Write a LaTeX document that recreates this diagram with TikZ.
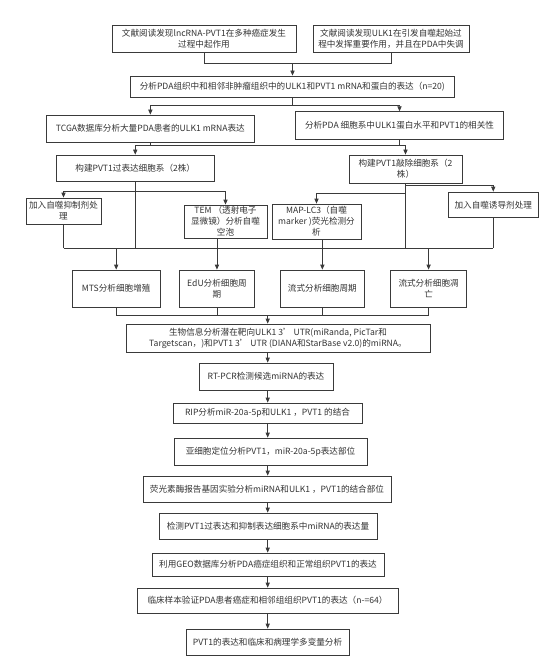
\documentclass[tikz,border=0pt]{standalone}
\usepackage{fontspec}
\newfontfamily\cjkfont{Noto Sans CJK SC}
\usetikzlibrary{arrows.meta,calc}
\definecolor{boxc}{HTML}{3A3A3A}
\definecolor{txtc}{HTML}{333333}
\tikzset{
  box/.style={draw=boxc, line width=0.8pt, fill=white, inner sep=1pt, align=center,
    text=txtc, font=\cjkfont\fontsize{8.6}{11}\selectfont},
  ln/.style={draw=boxc, line width=0.8pt},
  arr/.style={draw=boxc, line width=0.8pt, -{Triangle[length=5pt,width=4.2pt]}}
}
\begin{document}
\begin{tikzpicture}[x=1pt,y=-1pt]
\useasboundingbox[fill=white] (0,0) rectangle (554,671);
% boxes
\node[box, minimum width=184pt, minimum height=27.3pt] (a1) at (204,38.65) {文献阅读发现lncRNA-PVT1在多种癌症发生\\过程中起作用};
\node[box, minimum width=156pt, minimum height=27.3pt] (a2) at (391,38.65) {文献阅读发现ULK1在引发自噬起始过\\程中发挥重要作用，并且在PDA中失调};
\node[box, minimum width=323.3pt, minimum height=21.3pt] (b) at (292.35,86.65) {分析PDA组织中和相邻非肿瘤组织中的ULK1和PVT1 mRNA和蛋白的表达（n=20)};
\node[box, minimum width=207.3pt, minimum height=27.3pt] (c1) at (150.35,128.65) {TCGA数据库分析大量PDA患者的ULK1 mRNA表达};
\node[box, minimum width=207.6pt, minimum height=27.6pt] (c2) at (399.5,125.5) {分析PDA 细胞系中ULK1蛋白水平和PVT1的相关性};
\node[box, minimum width=158.5pt, minimum height=26pt] (d1) at (135.25,168) {构建PVT1过表达细胞系（2株）};
\node[box, minimum width=113pt, minimum height=28pt] (d2) at (405.5,169) {构建PVT1敲除细胞系（2\\株）};
\node[box, minimum width=75pt, minimum height=26pt] (e1) at (63.5,211) {加入自噬抑制剂处\\理};
\node[box, minimum width=83pt, minimum height=33pt] (e2) at (225.5,221.5) {TEM （透射电子\\显微镜）分析自噬\\空泡};
\node[box, minimum width=89pt, minimum height=35pt] (e3) at (316.5,221.5) {MAP-LC3（自噬\\marker )荧光检测分\\析};
\node[box, minimum width=90.5pt, minimum height=25.5pt] (e4) at (493.25,204.75) {加入自噬诱导剂处理};
\node[box, minimum width=87.6pt, minimum height=37pt] (f1) at (116.2,288.5) {MTS分析细胞增殖};
\node[box, minimum width=74.9pt, minimum height=37pt] (f2) at (216.95,288.5) {EdU分析细胞周\\期};
\node[box, minimum width=84.7pt, minimum height=37pt] (f3) at (322.35,288.5) {流式分析细胞周期};
\node[box, minimum width=75.6pt, minimum height=37pt] (f4) at (428.6,288.5) {流式分析细胞凋\\亡};
\node[box, minimum width=304pt, minimum height=28pt] (g) at (278,338) {生物信息分析潜在靶向ULK1 3’ UTR(miRanda, PicTar和\\Targetscan，)和PVT1 3’ UTR (DIANA和StarBase v2.0)的miRNA。};
\node[box, minimum width=134pt, minimum height=27pt] (h) at (266,376.5) {RT-PCR检测候选miRNA的表达};
\node[box, minimum width=189pt, minimum height=20pt] (i) at (267.5,413) {RIP分析miR-20a-5p和ULK1 ，PVT1 的结合};
\node[box, minimum width=193pt, minimum height=27pt] (j) at (270.5,451.5) {亚细胞定位分析PVT1，miR-20a-5p表达部位};
\node[box, minimum width=248pt, minimum height=26pt] (k) at (267,489) {荧光素酶报告基因实验分析miRNA和ULK1 ，PVT1的结合部位};
\node[box, minimum width=218pt, minimum height=26pt] (l) at (268,526) {检测PVT1过表达和抑制表达细胞系中miRNA的表达量};
\node[box, minimum width=232pt, minimum height=23pt] (m) at (268,564.5) {利用GEO数据库分析PDA癌症组织和正常组织PVT1的表达};
\node[box, minimum width=261pt, minimum height=25pt] (n) at (267.5,600.5) {临床样本验证PDA患者癌症和相邻组组织PVT1的表达（n-=64）};
\node[box, minimum width=163pt, minimum height=26pt] (o) at (267.5,642) {PVT1的表达和临床和病理学多变量分析};
% connector coordinates
\coordinate (ta) at (204,63.3);
\coordinate (tb) at (391,63.3);
\coordinate (tm) at (292.5,63.3);
\coordinate (bs) at (292.5,105);
\coordinate (cl) at (135.25,145.7);
\coordinate (cr) at (405.5,145.7);
\coordinate (d1b) at (135.25,191);
\coordinate (d2l) at (405.5,193);
\coordinate (d2r) at (405.5,185);
\coordinate (bl) at (63.5,248);
\coordinate (fj) at (267.7,315);
% top
\draw[ln] (a1.south) -- (ta) -- (tb) -- (a2.south);
\draw[arr] (tm) -- (tm |- b.north);
\draw[ln] (b.south -| bs) -- (bs);
\draw[arr] (bs) -| (c1.north);
\draw[arr] (bs) -| (c2.north);
% C to D
\draw[ln] (c1.south) -- (c1.south |- cl);
\draw[ln] (c2.south) -- (c2.south |- cr);
\draw[ln] (cl) -- (cr);
\draw[arr] (cl) -- (cl |- d1.north);
\draw[arr] (cr) -- (cr |- d2.north);
% D to E
\draw[ln] (d1.south) -- (d1.south |- bl);
\draw[arr] (d1b) -| (e1.north);
\draw[arr] (d1b) -| (e2.north);
\draw[ln] (d2.south) -- (d2.south |- bl);
\draw[arr] (d2l) -| (e3.north);
\draw[arr] (d2r) -| (e4.north);
% E to F
\draw[ln] (e1.south) -- (e1.south |- bl);
\draw[ln] (e4.south) -- (e4.south |- bl);
\draw[ln] (bl) -- (bl -| e4.south);
\draw[arr] (e2.south -| f2.north) -- (f2.north);
\draw[arr] (e3.south -| f3.north) -- (f3.north);
\draw[arr] (bl -| f1.north) -- (f1.north);
\draw[arr] (bl -| f4.north) -- (f4.north);
% F to G
\draw[ln] (f1.south) -- (f1.south |- fj) -- (f4.south |- fj) -- (f4.south);
\draw[ln] (f2.south) -- (f2.south |- fj);
\draw[ln] (f3.south) -- (f3.south |- fj);
\draw[arr] (fj) -- (fj |- g.north);
% chain
\draw[arr] (fj |- g.south) -- (fj |- h.north);
\draw[arr] (fj |- h.south) -- (fj |- i.north);
\draw[arr] (fj |- i.south) -- (fj |- j.north);
\draw[arr] (fj |- j.south) -- (fj |- k.north);
\draw[arr] (fj |- k.south) -- (fj |- l.north);
\draw[arr] (fj |- l.south) -- (fj |- m.north);
\draw[arr] (fj |- m.south) -- (fj |- n.north);
\draw[arr] (fj |- n.south) -- (fj |- o.north);
\end{tikzpicture}
\end{document}
